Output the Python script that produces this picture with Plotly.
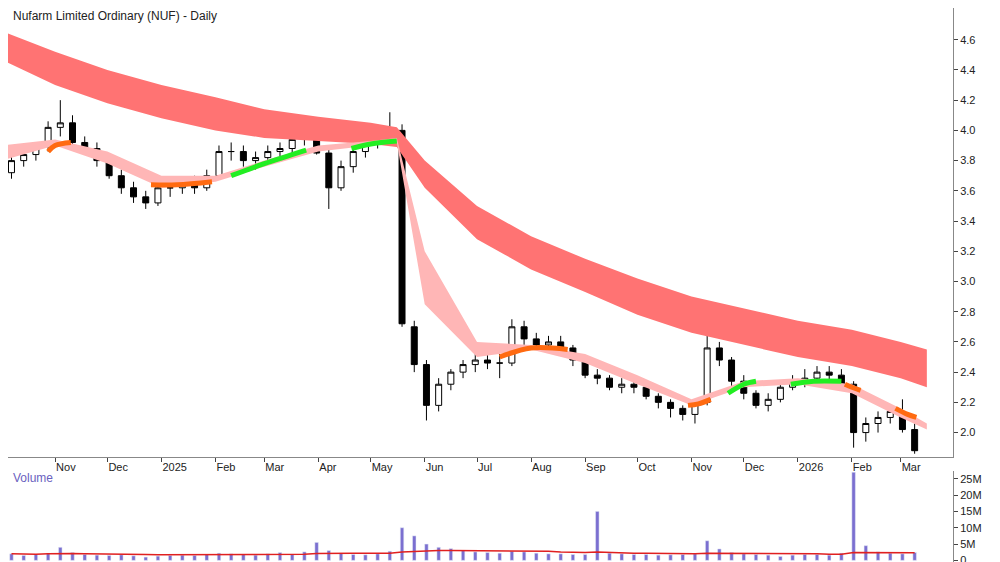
import plotly.graph_objects as go

# weekly candles (week start, open, high, low, close)
weeks = ["2024-10-07", "2024-10-14", "2024-10-21", "2024-10-28", "2024-11-04",
         "2024-11-11", "2024-11-18", "2024-11-25", "2024-12-02", "2024-12-09", "2024-12-16",
         "2024-12-23", "2024-12-30", "2025-01-06", "2025-01-13", "2025-01-20", "2025-01-27",
         "2025-02-03", "2025-02-10", "2025-02-17", "2025-02-24", "2025-03-03", "2025-03-10",
         "2025-03-17", "2025-03-24", "2025-03-31", "2025-04-07", "2025-04-14", "2025-04-21",
         "2025-04-28", "2025-05-05", "2025-05-12", "2025-05-19", "2025-05-26", "2025-06-02",
         "2025-06-09", "2025-06-16", "2025-06-23", "2025-06-30", "2025-07-07", "2025-07-14",
         "2025-07-21", "2025-07-28", "2025-08-04", "2025-08-11", "2025-08-18", "2025-08-25",
         "2025-09-01", "2025-09-08", "2025-09-15", "2025-09-22", "2025-09-29", "2025-10-06",
         "2025-10-13", "2025-10-20", "2025-10-27", "2025-11-03", "2025-11-10", "2025-11-17",
         "2025-11-24", "2025-12-01", "2025-12-08", "2025-12-15", "2025-12-22", "2025-12-29",
         "2026-01-05", "2026-01-12", "2026-01-19", "2026-01-26", "2026-02-02", "2026-02-09",
         "2026-02-16", "2026-02-23", "2026-03-02", "2026-03-09"]
opens = [3.72, 3.80, 3.84, 3.90, 4.02, 4.05, 3.92, 3.88, 3.80, 3.70, 3.62,
         3.56, 3.52, 3.62, 3.62, 3.64, 3.62, 3.70, 3.86, 3.86, 3.80, 3.82, 3.86,
         3.88, 3.94, 4.02, 3.85, 3.62, 3.76, 3.86, 3.92, 3.98, 4.00, 2.70, 2.45,
         2.18, 2.32, 2.40, 2.45, 2.48, 2.46, 2.46, 2.70, 2.62, 2.58, 2.60, 2.56,
         2.48, 2.38, 2.36, 2.30, 2.32, 2.30, 2.24, 2.20, 2.16, 2.12, 2.20, 2.56,
         2.48, 2.34, 2.26, 2.18, 2.22, 2.30, 2.34, 2.36, 2.40, 2.38, 2.32, 2.00,
         2.06, 2.10, 2.14, 2.02]
highs = [3.84, 3.88, 3.92, 4.06, 4.20, 4.10, 3.96, 3.92, 3.84, 3.74, 3.66,
         3.60, 3.66, 3.68, 3.68, 3.70, 3.74, 3.90, 3.92, 3.90, 3.86, 3.90, 3.92,
         3.98, 4.10, 4.08, 3.88, 3.80, 3.90, 3.94, 4.02, 4.12, 4.04, 2.74, 2.48,
         2.36, 2.42, 2.48, 2.52, 2.54, 2.52, 2.75, 2.74, 2.66, 2.64, 2.64, 2.58,
         2.50, 2.42, 2.38, 2.36, 2.36, 2.34, 2.26, 2.22, 2.18, 2.20, 2.64, 2.60,
         2.50, 2.38, 2.28, 2.26, 2.32, 2.38, 2.42, 2.44, 2.44, 2.42, 2.34, 2.10,
         2.14, 2.18, 2.22, 2.06]
lows = [3.68, 3.76, 3.80, 3.86, 3.96, 3.88, 3.84, 3.76, 3.68, 3.58, 3.52,
        3.48, 3.50, 3.56, 3.58, 3.58, 3.60, 3.68, 3.80, 3.76, 3.74, 3.78, 3.82,
        3.84, 3.90, 3.84, 3.48, 3.60, 3.72, 3.82, 3.88, 3.92, 2.70, 2.40, 2.08,
        2.14, 2.28, 2.36, 2.40, 2.42, 2.36, 2.44, 2.58, 2.56, 2.54, 2.52, 2.44,
        2.36, 2.32, 2.28, 2.26, 2.26, 2.22, 2.16, 2.10, 2.08, 2.06, 2.18, 2.44,
        2.30, 2.22, 2.16, 2.14, 2.20, 2.28, 2.30, 2.34, 2.32, 2.30, 1.90, 1.94,
        2.00, 2.06, 2.00, 1.86]
closes = [3.80, 3.84, 3.90, 4.02, 4.05, 3.92, 3.88, 3.80, 3.70, 3.62, 3.56,
          3.52, 3.62, 3.62, 3.64, 3.62, 3.70, 3.86, 3.86, 3.80, 3.82, 3.86, 3.88,
          3.94, 4.02, 3.85, 3.62, 3.76, 3.86, 3.92, 3.98, 4.00, 2.72, 2.45, 2.18,
          2.32, 2.40, 2.45, 2.48, 2.46, 2.46, 2.70, 2.62, 2.58, 2.60, 2.56, 2.48,
          2.38, 2.36, 2.30, 2.32, 2.30, 2.24, 2.20, 2.16, 2.12, 2.20, 2.56, 2.48,
          2.34, 2.26, 2.18, 2.22, 2.30, 2.34, 2.36, 2.40, 2.38, 2.32, 2.00, 2.06,
          2.10, 2.14, 2.02, 1.88]
volumes = [2.0, 1.5, 1.8, 2.2, 4.0, 2.4, 1.8, 1.6, 1.5, 1.7, 1.4,
           1.0, 1.3, 1.5, 1.6, 1.5, 1.8, 2.2, 2.0, 1.8, 1.6, 2.0, 2.4,
           1.8, 2.6, 5.5, 3.0, 2.2, 1.8, 1.7, 2.0, 2.8, 10.0, 7.5, 5.0,
           4.0, 3.6, 3.0, 2.6, 2.4, 2.2, 2.8, 2.6, 2.2, 2.0, 2.0, 1.8,
           1.8, 15.0, 2.2, 2.0, 1.8, 1.8, 1.6, 1.7, 1.8, 2.0, 6.0, 3.5,
           2.4, 2.0, 1.8, 1.6, 1.2, 1.6, 1.8, 1.8, 1.6, 2.2, 27.0, 4.5,
           2.6, 2.2, 2.0, 2.4]
vol_avg = [2.0, 1.9, 1.9, 2.0, 2.1, 2.1, 2.0, 2.0, 1.9, 1.9, 1.8,
           1.8, 1.7, 1.7, 1.7, 1.7, 1.7, 1.8, 1.8, 1.8, 1.8, 1.8, 1.9,
           1.9, 1.9, 2.1, 2.2, 2.2, 2.2, 2.2, 2.2, 2.2, 2.6, 2.8, 2.9,
           3.0, 3.0, 3.0, 3.0, 3.0, 3.0, 3.0, 3.0, 2.9, 2.8, 2.6, 2.5,
           2.4, 2.6, 2.4, 2.3, 2.2, 2.2, 2.1, 2.1, 2.0, 2.0, 2.2, 2.2,
           2.2, 2.2, 2.1, 2.1, 2.0, 2.0, 2.0, 2.0, 1.9, 1.9, 2.4, 2.4,
           2.4, 2.4, 2.3, 2.3]

# long-term band (red) and short-term band (pink)
band_dates = ["2024-10-01", "2024-11-01", "2024-12-01", "2025-01-01", "2025-02-01", "2025-03-01",
              "2025-04-01", "2025-05-01", "2025-05-16", "2025-06-01", "2025-07-01", "2025-08-01",
              "2025-09-01", "2025-10-01", "2025-11-01", "2025-12-01", "2026-01-01", "2026-02-01",
              "2026-03-01", "2026-03-16"]
long_upper = [4.66, 4.52, 4.40, 4.30, 4.22, 4.14, 4.09, 4.05, 4.02, 3.80, 3.50, 3.30,
              3.15, 3.02, 2.90, 2.82, 2.74, 2.68, 2.60, 2.55]
long_lower = [4.47, 4.30, 4.18, 4.08, 4.00, 3.95, 3.93, 3.91, 3.89, 3.62, 3.28, 3.08,
              2.93, 2.78, 2.66, 2.58, 2.50, 2.44, 2.36, 2.30]
short_upper = [3.90, 3.94, 3.86, 3.70, 3.70, 3.80, 3.90, 3.93, 3.95, 3.20, 2.60, 2.58,
               2.52, 2.38, 2.22, 2.34, 2.36, 2.32, 2.16, 2.06]
short_lower = [3.80, 3.90, 3.78, 3.62, 3.66, 3.76, 3.86, 3.90, 3.92, 2.85, 2.50, 2.55,
               2.46, 2.32, 2.18, 2.30, 2.32, 2.26, 2.10, 2.02]

# coloured stretches of the short band (date, level)
green_segments = [
    (["2025-02-10", "2025-03-01", "2025-03-25"], [3.70, 3.78, 3.87]),
    (["2025-04-20", "2025-05-01", "2025-05-16"], [3.88, 3.91, 3.93]),
    (["2025-11-22", "2025-12-01", "2025-12-08"], [2.26, 2.32, 2.34]),
    (["2025-12-28", "2026-01-10", "2026-01-26"], [2.32, 2.34, 2.34]),
]
orange_segments = [
    (["2024-10-28", "2024-11-01", "2024-11-10"], [3.86, 3.90, 3.92]),
    (["2024-12-26", "2025-01-10", "2025-01-30"], [3.64, 3.64, 3.66]),
    (["2025-07-14", "2025-08-01", "2025-08-22"], [2.50, 2.56, 2.55]),
    (["2025-10-30", "2025-11-05", "2025-11-12"], [2.18, 2.19, 2.22]),
    (["2026-01-28", "2026-02-01", "2026-02-06"], [2.32, 2.30, 2.28]),
    (["2026-02-26", "2026-03-05", "2026-03-10"], [2.16, 2.12, 2.10]),
]

fig = go.Figure()

fig.add_trace(go.Scatter(x=band_dates, y=long_upper, mode="lines", line=dict(color="#ff6b6b", width=0),
                         showlegend=False, hoverinfo="skip"))
fig.add_trace(go.Scatter(x=band_dates, y=long_lower, mode="lines", line=dict(color="#ff6b6b", width=0),
                         fill="tonexty", fillcolor="#ff7373", showlegend=False, hoverinfo="skip"))
fig.add_trace(go.Scatter(x=band_dates, y=short_upper, mode="lines", line=dict(color="#ffb3b3", width=0),
                         showlegend=False, hoverinfo="skip"))
fig.add_trace(go.Scatter(x=band_dates, y=short_lower, mode="lines", line=dict(color="#ffb3b3", width=0),
                         fill="tonexty", fillcolor="#ffb6b6", showlegend=False, hoverinfo="skip"))
for segs, col in [(green_segments, "#22ee22"), (orange_segments, "#ff6a10")]:
    for xs, ys in segs:
        fig.add_trace(go.Scatter(x=xs, y=ys, mode="lines", line=dict(color=col, width=5, shape="spline"),
                                 showlegend=False, hoverinfo="skip"))

fig.add_trace(go.Candlestick(
    x=weeks, open=opens, high=highs, low=lows, close=closes,
    increasing=dict(line=dict(color="black", width=1), fillcolor="white"),
    decreasing=dict(line=dict(color="black", width=1), fillcolor="black"),
    whiskerwidth=0, showlegend=False, xaxis="x", yaxis="y",
))

fig.add_trace(go.Bar(x=weeks, y=volumes, marker_color="#7b6fd0", width=1000 * 3600 * 24 * 2,
                     xaxis="x2", yaxis="y2", showlegend=False))
fig.add_trace(go.Scatter(x=weeks, y=vol_avg, mode="lines", line=dict(color="#e02020", width=1.5),
                         xaxis="x2", yaxis="y2", showlegend=False))

tick_dates = ["2024-11-01", "2024-12-01", "2025-01-01", "2025-02-01", "2025-03-01", "2025-04-01",
              "2025-05-01", "2025-06-01", "2025-07-01", "2025-08-01", "2025-09-01", "2025-10-01",
              "2025-11-01", "2025-12-01", "2026-01-01", "2026-02-01", "2026-03-01"]
tick_text = ["Nov", "Dec", "2025", "Feb", "Mar", "Apr", "May", "Jun", "Jul", "Aug", "Sep", "Oct",
             "Nov", "Dec", "2026", "Feb", "Mar"]

xr = ["2024-10-05", "2026-03-31"]
fig.update_layout(
    width=1000, height=562,
    margin=dict(l=0, r=55, t=0, b=8),
    plot_bgcolor="white", paper_bgcolor="white",
    font=dict(family="Liberation Sans, Arial, sans-serif", size=11, color="#222"),
    xaxis=dict(range=xr, domain=[0, 1], anchor="y", tickvals=tick_dates, ticktext=tick_text,
               ticks="outside", ticklen=4, tickcolor="#444", showgrid=False,
               rangeslider=dict(visible=False), showline=True, linecolor="#888",
               ticklabelposition="outside right"),
    yaxis=dict(domain=[0.19, 1], side="right", range=[1.84, 4.81],
               tickvals=[2.0, 2.2, 2.4, 2.6, 2.8, 3.0, 3.2, 3.4, 3.6, 3.8, 4.0, 4.2, 4.4, 4.6],
               tickformat=".1f", showgrid=False, ticks="outside", ticklen=4, showline=True, linecolor="#888"),
    xaxis2=dict(range=xr, domain=[0, 1], anchor="y2", matches="x", showticklabels=False,
                showgrid=False, showline=True, linecolor="#888"),
    yaxis2=dict(domain=[0.0, 0.165], side="right", range=[-0.5, 27.5],
                tickvals=[0, 5, 10, 15, 20, 25], ticktext=["0", "5M", "10M", "15M", "20M", "25M"],
                showgrid=False, ticks="outside", ticklen=4, showline=True, linecolor="#888"),
    annotations=[
        dict(text="Nufarm Limited Ordinary (NUF) - Daily", x=0.003, y=1.0, xref="paper", yref="paper",
             xanchor="left", yanchor="top", yshift=1, showarrow=False, font=dict(size=12, color="#222")),
        dict(text="Volume", x=0.003, y=0.167, xref="paper", yref="paper",
             xanchor="left", yanchor="top", showarrow=False, font=dict(size=12, color="#6a5fc0")),
    ],
)

fig.write_html("out.html")
